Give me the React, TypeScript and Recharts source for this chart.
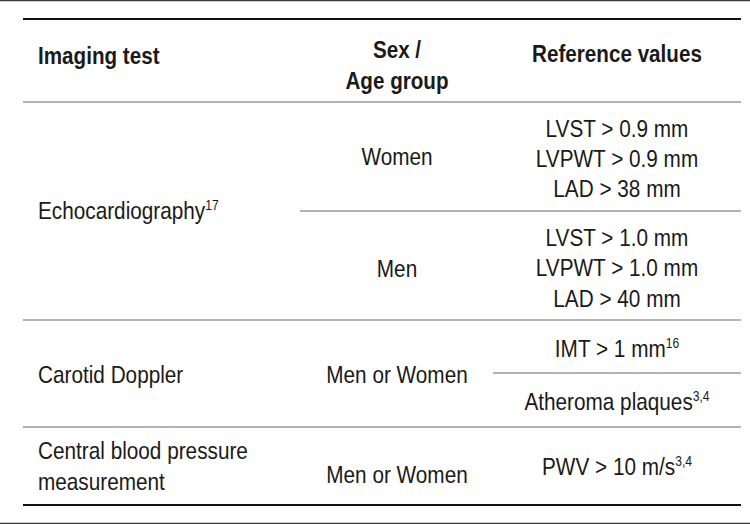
import React from "react";
import { ComposedChart, XAxis, YAxis, Scatter, ReferenceLine } from "recharts";

// ---- content ----
const headers = ["Imaging test", "Sex /", "Age group", "Reference values"];
const tests = ["Echocardiography", "Carotid Doppler", "Central blood pressure", "measurement"];
const testSups = ["17", "", "", ""];
const groups = ["Women", "Men", "Men or Women", "Men or Women"];
const refValues = [
  "LVST > 0.9 mm",
  "LVPWT > 0.9 mm",
  "LAD > 38 mm",
  "LVST > 1.0 mm",
  "LVPWT > 1.0 mm",
  "LAD > 40 mm",
  "IMT > 1 mm",
  "Atheroma plaques",
  "PWV > 10 m/s",
];
const refSups = ["", "", "", "", "", "", "16", "3,4", "3,4"];

// ---- layout (page units) ----
const W = 750;
const H = 524;
const colX = [38, 397, 617];
const headerBaselines = [64, 58, 89, 62];
const testBaselines = [219, 383, 459, 490];
const groupBaselines = [165, 277, 383, 483];
const refBaselines = [137, 167, 197, 246, 276, 307, 357, 410, 475];

type Cell = { x: number; y: number; text: string; sup: string; anchor: string; bold: boolean };

const cells: Cell[] = [
  { x: colX[0], y: headerBaselines[0], text: headers[0], sup: "", anchor: "start", bold: true },
  { x: colX[1], y: headerBaselines[1], text: headers[1], sup: "", anchor: "middle", bold: true },
  { x: colX[1], y: headerBaselines[2], text: headers[2], sup: "", anchor: "middle", bold: true },
  { x: colX[2], y: headerBaselines[3], text: headers[3], sup: "", anchor: "middle", bold: true },
  ...tests.map((t, i) => ({ x: colX[0], y: testBaselines[i], text: t, sup: testSups[i], anchor: "start", bold: false })),
  ...groups.map((g, i) => ({ x: colX[1], y: groupBaselines[i], text: g, sup: "", anchor: "middle", bold: false })),
  ...refValues.map((r, i) => ({ x: colX[2], y: refBaselines[i], text: r, sup: refSups[i], anchor: "middle", bold: false })),
];

type Rule = { x1: number; x2: number; y: number; kind: "border" | "thick" | "thin" };
const rules: Rule[] = [
  { x1: 0, x2: W, y: 0.5, kind: "border" },
  { x1: 0, x2: W, y: 523.5, kind: "border" },
  { x1: 23, x2: 741, y: 19, kind: "thick" },
  { x1: 23, x2: 741, y: 102, kind: "thin" },
  { x1: 300, x2: 741, y: 211, kind: "thin" },
  { x1: 23, x2: 741, y: 320, kind: "thin" },
  { x1: 493, x2: 741, y: 373, kind: "thin" },
  { x1: 23, x2: 741, y: 427, kind: "thin" },
  { x1: 23, x2: 741, y: 505, kind: "thick" },
];

const FONT = "'Liberation Sans', Arial, sans-serif";

const TextShape = (props: any) => {
  const { cx, cy, payload } = props;
  const sx = payload.bold ? 0.86 : 0.865;
  return (
    <text
      x={0}
      y={0}
      transform={`translate(${cx} ${cy}) scale(${sx} 1)`}
      textAnchor={payload.anchor}
      fontFamily={FONT}
      fontSize={24}
      fontWeight={payload.bold ? 700 : 400}
      fill="#1a1a1a"
    >
      <tspan>{payload.text}</tspan>
      {payload.sup ? (
        <tspan fontSize={14} dy={-9}>
          {payload.sup}
        </tspan>
      ) : null}
    </text>
  );
};

const ruleStyle = (k: Rule["kind"]) =>
  k === "border"
    ? { stroke: "#3a3a3a", strokeWidth: 1.5 }
    : k === "thick"
    ? { stroke: "#111111", strokeWidth: 2.2 }
    : { stroke: "#9a9a9a", strokeWidth: 1.4 };

export default function App() {
  return (
    <div style={{ width: W, height: H, background: "#ffffff" }}>
      <style>{`body{margin:0;background:#fff;}`}</style>
      <ComposedChart width={W} height={H} data={cells} margin={{ top: 0, right: 0, bottom: 0, left: 0 }}>
        <XAxis type="number" dataKey="x" domain={[0, W]} hide allowDataOverflow />
        <YAxis type="number" dataKey="y" domain={[0, H]} reversed hide allowDataOverflow />
        {rules.map((r, i) => (
          <ReferenceLine
            key={i}
            segment={[
              { x: r.x1, y: r.y },
              { x: r.x2, y: r.y },
            ]}
            ifOverflow="visible"
            {...ruleStyle(r.kind)}
          />
        ))}
        <Scatter data={cells} dataKey="y" shape={<TextShape />} isAnimationActive={false} />
      </ComposedChart>
    </div>
  );
}
